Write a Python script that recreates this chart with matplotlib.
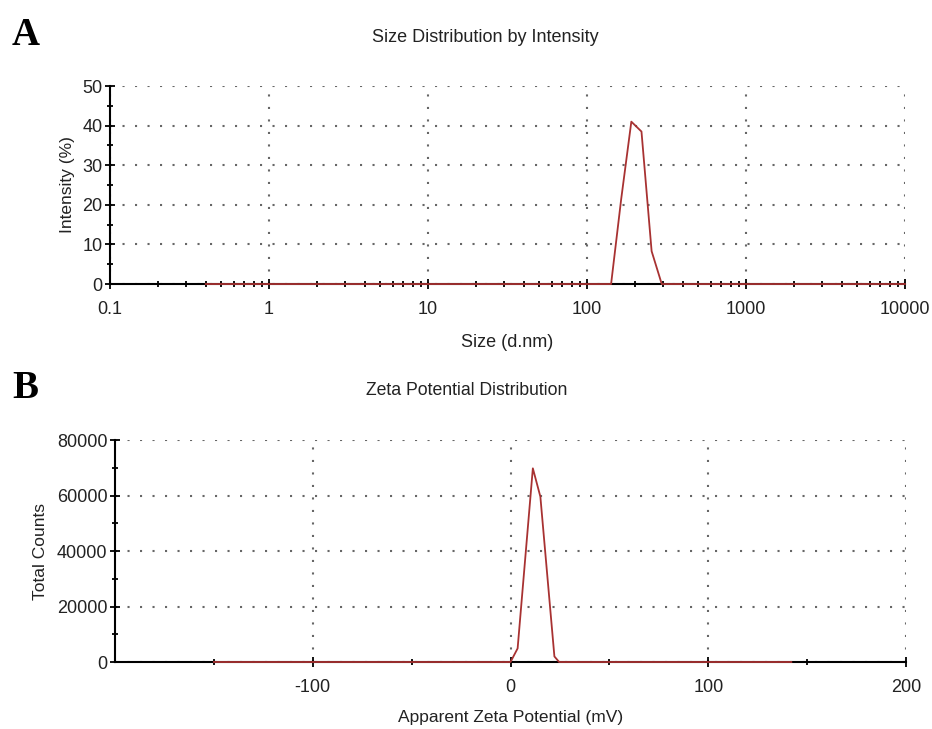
import matplotlib
matplotlib.use("Agg")
import matplotlib.pyplot as plt
from matplotlib.ticker import MultipleLocator, LogLocator, FixedLocator, NullFormatter
import numpy as np

plt.rcParams['font.family'] = ['Liberation Sans', 'DejaVu Sans']
plt.rcParams['axes.unicode_minus'] = False

# Panel A: size distribution (Malvern size bins, d.nm) and intensity (%)
size_nm = [0.4, 141.8, 164.2, 190.1, 220.2, 255.0, 295.3, 10000]
intensity = [0, 0, 21.5, 41.0, 38.5, 8.3, 0, 0]

# Panel B: zeta potential (mV) and total counts
zeta_mv = [-150, 0, 3.6, 11.3, 15.1, 22.2, 24.6, 142]
counts = [0, 0, 4900, 69800, 59600, 2000, 0, 0]

size_ticks = [0.1, 1, 10, 100, 1000, 10000]
size_labels = ['0.1', '1', '10', '100', '1000', '10000']

line_color = '#a83232'
text_color = '#222222'
grid_kw = dict(color='#666666', linestyle=(0, (1, 5)), linewidth=1.5)

fig = plt.figure(figsize=(9.32, 7.29), dpi=100)

def style(ax):
    for s in ['top', 'right']:
        ax.spines[s].set_visible(False)
    for s in ['left', 'bottom']:
        ax.spines[s].set_linewidth(1.5)
        ax.spines[s].set_color('black')
    ax.tick_params(which='major', direction='inout', length=7, width=1.3,
                   labelsize=13, colors='black', labelcolor=text_color)
    ax.tick_params(which='minor', direction='inout', length=5, width=1.3)
    ax.tick_params(axis='x', pad=9)
    ax.tick_params(axis='y', pad=2)
    ax.grid(True, which='major', **grid_kw)
    ax.set_axisbelow(True)

# Panel A
ax1 = fig.add_axes([0.118, 0.6104, 0.853, 0.2716])
ax1.plot(size_nm, intensity, color=line_color, linewidth=1.3, zorder=5, clip_on=False)
ax1.set_xscale('log')
ax1.set_xlim(0.1, 10000)
ax1.set_ylim(0, 50)
ax1.xaxis.set_major_locator(FixedLocator(size_ticks))
ax1.set_xticklabels(size_labels)
ax1.xaxis.set_minor_locator(LogLocator(base=10, subs=np.arange(2, 10), numticks=20))
ax1.xaxis.set_minor_formatter(NullFormatter())
ax1.yaxis.set_major_locator(MultipleLocator(10))
ax1.yaxis.set_minor_locator(MultipleLocator(5))
style(ax1)
ax1.set_xlabel('Size (d.nm)', fontsize=13, color=text_color, labelpad=11)
ax1.set_ylabel('Intensity (%)', fontsize=12.5, color=text_color, labelpad=5)

# Panel B
ax2 = fig.add_axes([0.1234, 0.0919, 0.8487, 0.3045])
ax2.plot(zeta_mv, counts, color=line_color, linewidth=1.3, zorder=5, clip_on=False)
ax2.set_xlim(-200, 200)
ax2.set_ylim(0, 80000)
ax2.xaxis.set_major_locator(FixedLocator([-100, 0, 100, 200]))
ax2.xaxis.set_minor_locator(FixedLocator([-150, -50, 50, 150]))
ax2.yaxis.set_major_locator(MultipleLocator(20000))
ax2.yaxis.set_minor_locator(MultipleLocator(10000))
style(ax2)
ax2.set_xlabel('Apparent Zeta Potential (mV)', fontsize=12.5, color=text_color, labelpad=10)
ax2.set_ylabel('Total Counts', fontsize=12.5, color=text_color, labelpad=6)

fig.text(0.521, 0.949, 'Size Distribution by Intensity', fontsize=13, color=text_color,
         ha='center', va='center')
fig.text(0.501, 0.465, 'Zeta Potential Distribution', fontsize=12.7, color=text_color,
         ha='center', va='center')

fig.text(0.013, 0.938, 'A', fontsize=28, fontweight='bold', family='Liberation Serif', va='baseline')
fig.text(0.013, 0.454, 'B', fontsize=28, fontweight='bold', family='Liberation Serif', va='baseline')

fig.savefig('out.png', dpi=100)
